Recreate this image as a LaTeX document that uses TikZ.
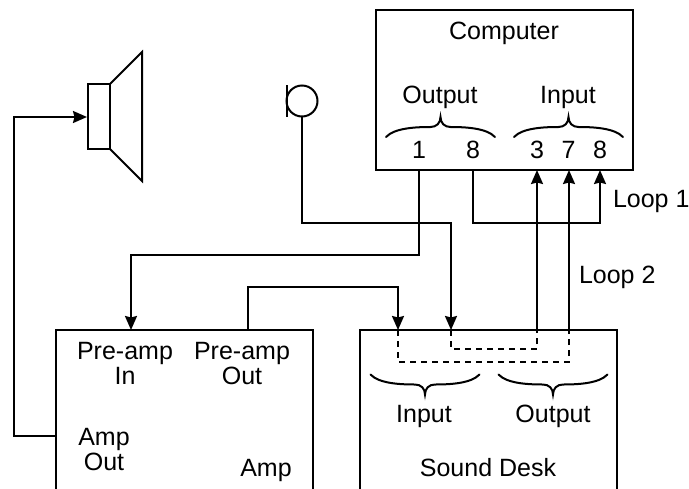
\documentclass[tikz,border=0pt]{standalone}
\usepackage{fontspec}
\setmainfont{Liberation Sans}
\usetikzlibrary{arrows.meta}
\tikzset{
  boxnode/.style={draw=black,line width=2.4pt,fill=none,inner sep=0pt,outer sep=0pt,anchor=north west},
  wire/.style={draw=black,line width=2pt,line join=miter},
  wirearrow/.style={wire,-{Stealth[length=14pt,width=12pt,inset=1.5pt]}},
  dashwire/.style={draw=black,line width=2pt,dash pattern=on 6pt off 5pt},
  shape line/.style={draw=black,line width=2pt,line join=miter},
  label/.style={inner sep=0pt,outer sep=0pt,anchor=base,font=\fontsize{25}{25}\selectfont},
  leftlabel/.style={label,anchor=base west},
  bracepic/.pic={
    \draw[line width=2pt,line cap=round] (-54.5,10) .. controls (-46,1) and (-25,0) .. (-10,0)
      .. controls (-4,0) and (0,-4) .. (0,-10)
      .. controls (0,-4) and (4,0) .. (10,0)
      .. controls (25,0) and (46,1) .. (54.5,10);
  }
}
\begin{document}
\begin{tikzpicture}[x=1pt,y=-1pt]
\useasboundingbox (0,0) rectangle (689,488);
\clip (0,0) rectangle (689,488);
% boxes
\node[boxnode,minimum width=257pt,minimum height=160pt] (computer) at (376,10) {};
\node[boxnode,minimum width=257pt,minimum height=200pt] (amp) at (56,330) {};
\node[boxnode,minimum width=257pt,minimum height=200pt] (desk) at (360,330) {};
% speaker
\node[draw=black,line width=2pt,inner sep=0pt,outer sep=0pt,anchor=north west,minimum width=22pt,minimum height=65pt] (magnet) at (88,84) {};
\draw[shape line] (magnet.north east) -- (142,52) -- (142,181) -- (magnet.south east);
% microphone
\node[circle,draw=black,line width=2pt,inner sep=0pt,outer sep=0pt,minimum size=31pt] (mic) at (302,101) {};
\coordinate (micbartop) at (287,85);
\coordinate (micbarbot) at (287,117);
\draw[line width=2pt] (micbartop) -- (micbarbot);
% ports
\coordinate (cout1) at (419,170);
\coordinate (cout8) at (473,170);
\coordinate (cin3) at (537,170);
\coordinate (cin7) at (569,170);
\coordinate (cin8) at (600,170);
\coordinate (apin) at (131,330);
\coordinate (apout) at (248,330);
\coordinate (aout) at (56,436);
\coordinate (dA) at (398,330);
\coordinate (dB) at (451,330);
\coordinate (dC) at (537,330);
\coordinate (dD) at (569,330);
% connectors
\draw[wirearrow] (aout) -- (14,436) -- (14,117) -- (87,117);
\draw[wirearrow] (mic.south) -- (302,223) -- (451,223) -- (dB);
\draw[wirearrow] (cout1) -- (419,255) -- (131,255) -- (apin);
\draw[wirearrow] (apout) -- (248,287) -- (398,287) -- (dA);
\draw[wirearrow] (cout8) -- (473,223) -- (600,223) -- (cin8);
\draw[wirearrow] (dC) -- (cin3);
\draw[wirearrow] (dD) -- (cin7);
\draw[dashwire] (dA) -- (398,362) -- (569,362) -- (dD);
\draw[dashwire] (dB) -- (451,349) -- (537,349) -- (dC);
% braces
\pic at (440.5,127) {bracepic};
\pic at (568.5,127) {bracepic};
\pic[yscale=-1] at (425,384.5) {bracepic};
\pic[yscale=-1] at (553,384.5) {bracepic};
% labels
\node[label] (tcomp) at (504,39) {Computer};
\node[label] (tcout) at (440,103) {Output};
\node[label] (tcin) at (568,103) {Input};
\node[label] (t1) at (419,158) {1};
\node[label] (t8a) at (473,158) {8};
\node[label] (t3) at (537,158) {3};
\node[label] (t7) at (568.5,158) {7};
\node[label] (t8b) at (600,158) {8};
\node[leftlabel] (tl1) at (613,207) {Loop 1};
\node[leftlabel] (tl2) at (579,283) {Loop 2};
\node[label] (tpi) at (125,359) {Pre-amp};
\node[label] (tin) at (125,384) {In};
\node[label] (tpo) at (242,359) {Pre-amp};
\node[label] (tou) at (242,384) {Out};
\node[label] (tam) at (104,445) {Amp};
\node[label] (tao) at (104,470) {Out};
\node[label] (tamp) at (266,476) {Amp};
\node[label] (tdi) at (424,422) {Input};
\node[label] (tdo) at (553,422) {Output};
\node[label] (tsd) at (488,476) {Sound Desk};
\end{tikzpicture}
\end{document}
